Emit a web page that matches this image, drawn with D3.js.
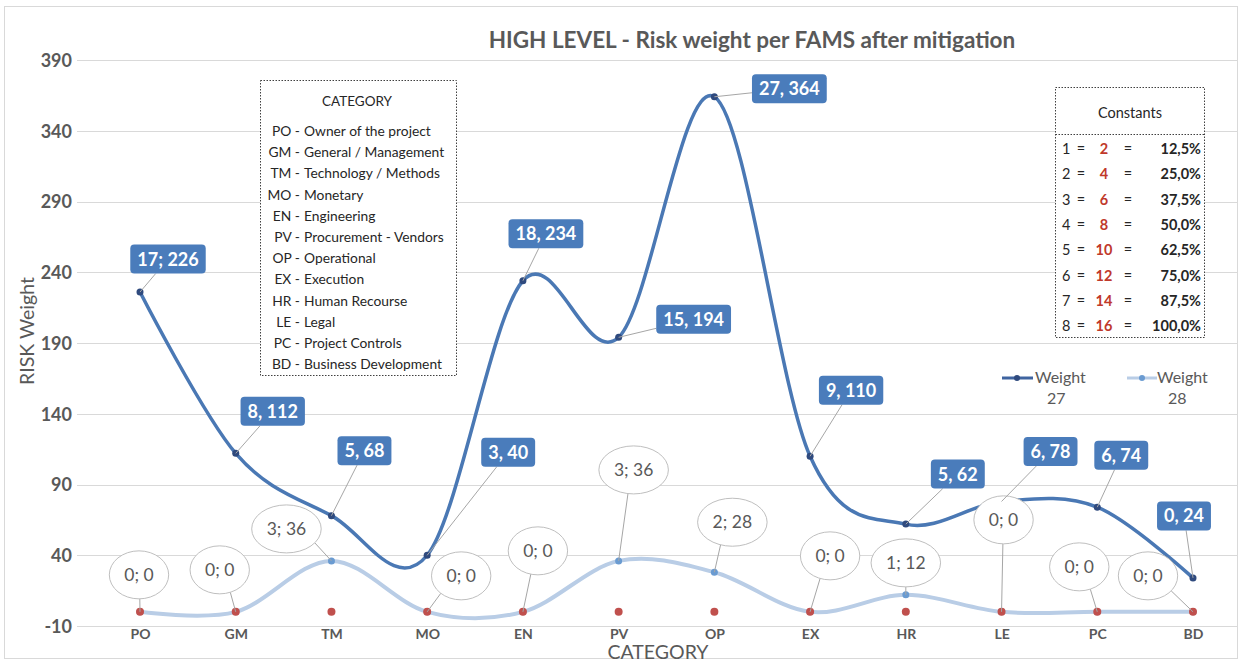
<!DOCTYPE html>
<html><head><meta charset="utf-8">
<script src="https://cdn.jsdelivr.net/npm/d3@7"></script>
<style>
html,body{margin:0;padding:0;background:#fff;}
svg{display:block;font-family:Lato,"Open Sans",sans-serif;}
</style></head>
<body>
<svg id="chart" width="1242" height="662"></svg>
<script>
// ---------- data ----------
const categories = ["PO","GM","TM","MO","EN","PV","OP","EX","HR","LE","PC","BD"];
const weight27 = [226,112,68,40,234,194,364,110,62,78,74,24];
const weight27Labels = ["17; 226","8, 112","5, 68","3, 40","18, 234","15, 194","27, 364","9, 110","5, 62","6, 78","6, 74","0, 24"];
const weight28 = [0,0,36,0,0,36,28,0,12,0,0,0];
const weight28Labels = ["0; 0","0; 0","3; 36","0; 0","0; 0","3; 36","2; 28","0; 0","1; 12","0; 0","0; 0","0; 0"];
const baseline = [0,0,0,0,0,0,0,0,0,0,0,0];
const yTicks = [-10,40,90,140,190,240,290,340,390];
const categoryCodes = ["PO -","GM -","TM -","MO -","EN -","PV -","OP -","EX -","HR -","LE -","PC -","BD -"];
const categoryNames = ["Owner of the project","General / Management","Technology / Methods","Monetary","Engineering","Procurement - Vendors","Operational","Execution","Human Recourse","Legal","Project Controls","Business Development"];
const constIndex = [1,2,3,4,5,6,7,8];
const constValue = [2,4,6,8,10,12,14,16];
const constPct = ["12,5%","25,0%","37,5%","50,0%","62,5%","75,0%","87,5%","100,0%"];

// ---------- layout (label offsets in px relative to point) ----------
const offs27 = [[28,-33],[37,-42],[33,-65],[81,-103],[23,-47],[75,-18],[75,-8],[41,-66],[52,-50],[49,-50],[24,-52],[-9,-62]];
const offs28 = [[-1,-37],[-16,-42],[-45,-32],[34,-36],[15,-61],[15,-91],[18,-50],[20,-56],[0,-32],[2,-92],[-18,-45],[-45,-36]];

const svg = d3.select("#chart");
const grey = "#595959";

svg.append("rect").attr("x",4.5).attr("y",6.5).attr("width",1233).attr("height",652)
  .attr("fill","#fff").attr("stroke","#d9d9d9").attr("stroke-width",1);

const x = d3.scalePoint().domain(categories).range([140,1193]);
const y = d3.scaleLinear().domain([-10,390]).range([626,60]);
const gridX0 = 77, gridX1 = 1238;

// grid
svg.append("g").selectAll("line").data(yTicks).join("line")
  .attr("x1",gridX0).attr("x2",gridX1)
  .attr("y1",d=>Math.round(y(d))+0.5).attr("y2",d=>Math.round(y(d))+0.5)
  .attr("stroke","#d9d9d9").attr("stroke-width",1);

// y axis labels
const yAxis = d3.axisLeft(y).tickValues(yTicks).tickFormat(d=>String(d)).tickSize(0).tickPadding(0);
const gy = svg.append("g").attr("transform","translate(72,0)").call(yAxis);
gy.select(".domain").remove();
gy.selectAll("text").attr("font-size",18).attr("font-weight","bold").attr("fill",grey)
  .attr("font-family","Lato,sans-serif").attr("dy","0.35em");

// x axis labels
const xAxis = d3.axisBottom(x).tickSize(0).tickPadding(0);
const gx = svg.append("g").attr("transform","translate(0,626)").call(xAxis);
gx.select(".domain").remove();
gx.selectAll("text").attr("font-size",14).attr("font-weight","bold").attr("fill",grey)
  .attr("font-family","Lato,sans-serif").attr("dy","0.92em");

// titles
svg.append("text").attr("x",752).attr("y",48).attr("text-anchor","middle")
  .attr("font-size",22.5).attr("font-weight","bold").attr("fill",grey)
  .text("HIGH LEVEL - Risk weight per FAMS after mitigation");
svg.append("text").attr("transform","translate(34,331) rotate(-90)").attr("text-anchor","middle")
  .attr("font-size",19.5).attr("fill",grey).text("RISK Weight");
svg.append("text").attr("x",658).attr("y",659).attr("text-anchor","middle")
  .attr("font-size",19.5).attr("fill",grey).text("CATEGORY");

// category box
const cb = svg.append("g");
cb.append("rect").attr("x",260.5).attr("y",80.5).attr("width",196).attr("height",295)
  .attr("fill","#fff").attr("stroke","#404040").attr("stroke-width",1).attr("stroke-dasharray","1.5,1.5");
cb.append("text").attr("x",357).attr("y",106).attr("text-anchor","middle")
  .attr("fill","#262626").attr("font-size",13.5).text("CATEGORY");
categoryNames.forEach((n,i)=>{
  const yy = 136 + i*21.2;
  cb.append("text").attr("x",300).attr("y",yy).attr("text-anchor","end").attr("font-size",13.8)
    .attr("fill","#262626").text(categoryCodes[i]);
  cb.append("text").attr("x",304).attr("y",yy).attr("font-size",13.8)
    .attr("fill","#262626").text(n);
});

// constants box
const kb = svg.append("g");
kb.append("rect").attr("x",1055.5).attr("y",87.5).attr("width",149).attr("height",250)
  .attr("fill","#fff").attr("stroke","#404040").attr("stroke-dasharray","1.5,1.5");
kb.append("line").attr("x1",1055.5).attr("x2",1204.5).attr("y1",134.5).attr("y2",134.5)
  .attr("stroke","#404040").attr("stroke-dasharray","1.5,1.5");
kb.append("text").attr("x",1130).attr("y",118).attr("text-anchor","middle").attr("font-size",14.5)
  .attr("fill","#262626").text("Constants");
constIndex.forEach((k,i)=>{
  const yy = 154 + i*25.3;
  const t = (xx,txt,anchor,col,bold)=>kb.append("text").attr("x",xx).attr("y",yy).attr("text-anchor",anchor)
     .attr("font-size",14.5).attr("fill",col).attr("font-weight",bold?"bold":"normal").text(txt);
  t(1062,k,"start","#262626",false);
  t(1081,"=","middle","#262626",false);
  t(1104,constValue[i],"middle","#c0392b",true);
  t(1128,"=","middle","#262626",false);
  t(1201,constPct[i],"end","#262626",true);
});

// legend
const lg = svg.append("g");
lg.append("line").attr("x1",1002).attr("x2",1033).attr("y1",378).attr("y2",378).attr("stroke","#3f64a0").attr("stroke-width",3);
lg.append("circle").attr("cx",1017).attr("cy",378).attr("r",3).attr("fill","#2f4a7e");
lg.append("text").attr("x",1035).attr("y",383).attr("font-size",16).attr("fill",grey).text("Weight");
lg.append("text").attr("x",1047).attr("y",404).attr("font-size",16).attr("fill",grey).text("27");
lg.append("line").attr("x1",1127).attr("x2",1157).attr("y1",378).attr("y2",378).attr("stroke","#b9cde6").attr("stroke-width",3);
lg.append("circle").attr("cx",1142).attr("cy",378).attr("r",3).attr("fill","#6a9bd1");
lg.append("text").attr("x",1157).attr("y",383).attr("font-size",16).attr("fill",grey).text("Weight");
lg.append("text").attr("x",1168).attr("y",404).attr("font-size",16).attr("fill",grey).text("28");

// lines
const line = d3.line().x((d,i)=>x(categories[i])).y(d=>y(d)).curve(d3.curveCatmullRom.alpha(0));
svg.append("path").datum(weight28).attr("d",line).attr("fill","none").attr("stroke","#b9cde6").attr("stroke-width",4);
svg.append("g").selectAll("circle").data(weight28).join("circle")
  .attr("cx",(d,i)=>x(categories[i])).attr("cy",d=>y(d)).attr("r",3.5).attr("fill","#6a9bd1");
svg.append("path").datum(weight27).attr("d",line).attr("fill","none").attr("stroke","#4a78b4").attr("stroke-width",3.5);
svg.append("g").selectAll("circle").data(weight27).join("circle")
  .attr("cx",(d,i)=>x(categories[i])).attr("cy",d=>y(d)).attr("r",3.5).attr("fill","#2f4a7e");
svg.append("g").selectAll("circle").data(baseline).join("circle")
  .attr("cx",(d,i)=>x(categories[i])).attr("cy",d=>y(d)).attr("r",4).attr("fill","#c0504d");

// light labels (ellipses)
const l28 = svg.append("g");
weight28.forEach((v,i)=>{
  const px = x(categories[i]), py = y(v);
  const cx = px + offs28[i][0], cy = py + offs28[i][1];
  const t = l28.append("text").attr("x",cx).attr("y",cy).attr("text-anchor","middle").attr("dy","0.35em")
    .attr("font-size",17.5).attr("fill",grey).text(weight28Labels[i]);
  const w = t.node().getComputedTextLength();
  const rx = w/2 + 15, ry = 24;
  const ang = Math.atan2(py-cy, px-cx);
  const ex = cx + rx*Math.cos(ang), ey = cy + ry*Math.sin(ang);
  const dist = Math.hypot(px-cx, py-cy);
  if (dist > ry + 4) {
    l28.insert("line","text").attr("x1",px).attr("y1",py).attr("x2",ex).attr("y2",ey)
      .attr("stroke","#a6a6a6").attr("stroke-width",1);
  }
  l28.insert("ellipse","text").attr("cx",cx).attr("cy",cy).attr("rx",rx).attr("ry",ry)
    .attr("fill","#fff").attr("stroke","#bfbfbf").attr("stroke-width",1);
});

// dark labels (boxes)
const l27 = svg.append("g");
weight27.forEach((v,i)=>{
  const px = x(categories[i]), py = y(v);
  const cx = px + offs27[i][0], cy = py + offs27[i][1];
  const t = l27.append("text").attr("x",cx).attr("y",cy).attr("text-anchor","middle").attr("dy","0.36em")
    .attr("font-size",18).attr("font-weight","bold").attr("fill","#fff").text(weight27Labels[i]);
  const w = t.node().getComputedTextLength();
  const bw = w + 14, bh = 29;
  const dx = px-cx, dy = py-cy;
  const s = Math.min(Math.abs((bw/2)/(dx||1e-9)), Math.abs((bh/2)/(dy||1e-9)));
  if (s < 1) {
    l27.insert("line","text").attr("x1",px).attr("y1",py).attr("x2",cx+dx*s).attr("y2",cy+dy*s)
      .attr("stroke","#a6a6a6").attr("stroke-width",1);
  }
  l27.insert("rect","text").attr("x",cx-bw/2).attr("y",cy-bh/2).attr("width",bw).attr("height",bh)
    .attr("rx",4).attr("fill","#4a7cbb");
});
</script>
</body></html>
